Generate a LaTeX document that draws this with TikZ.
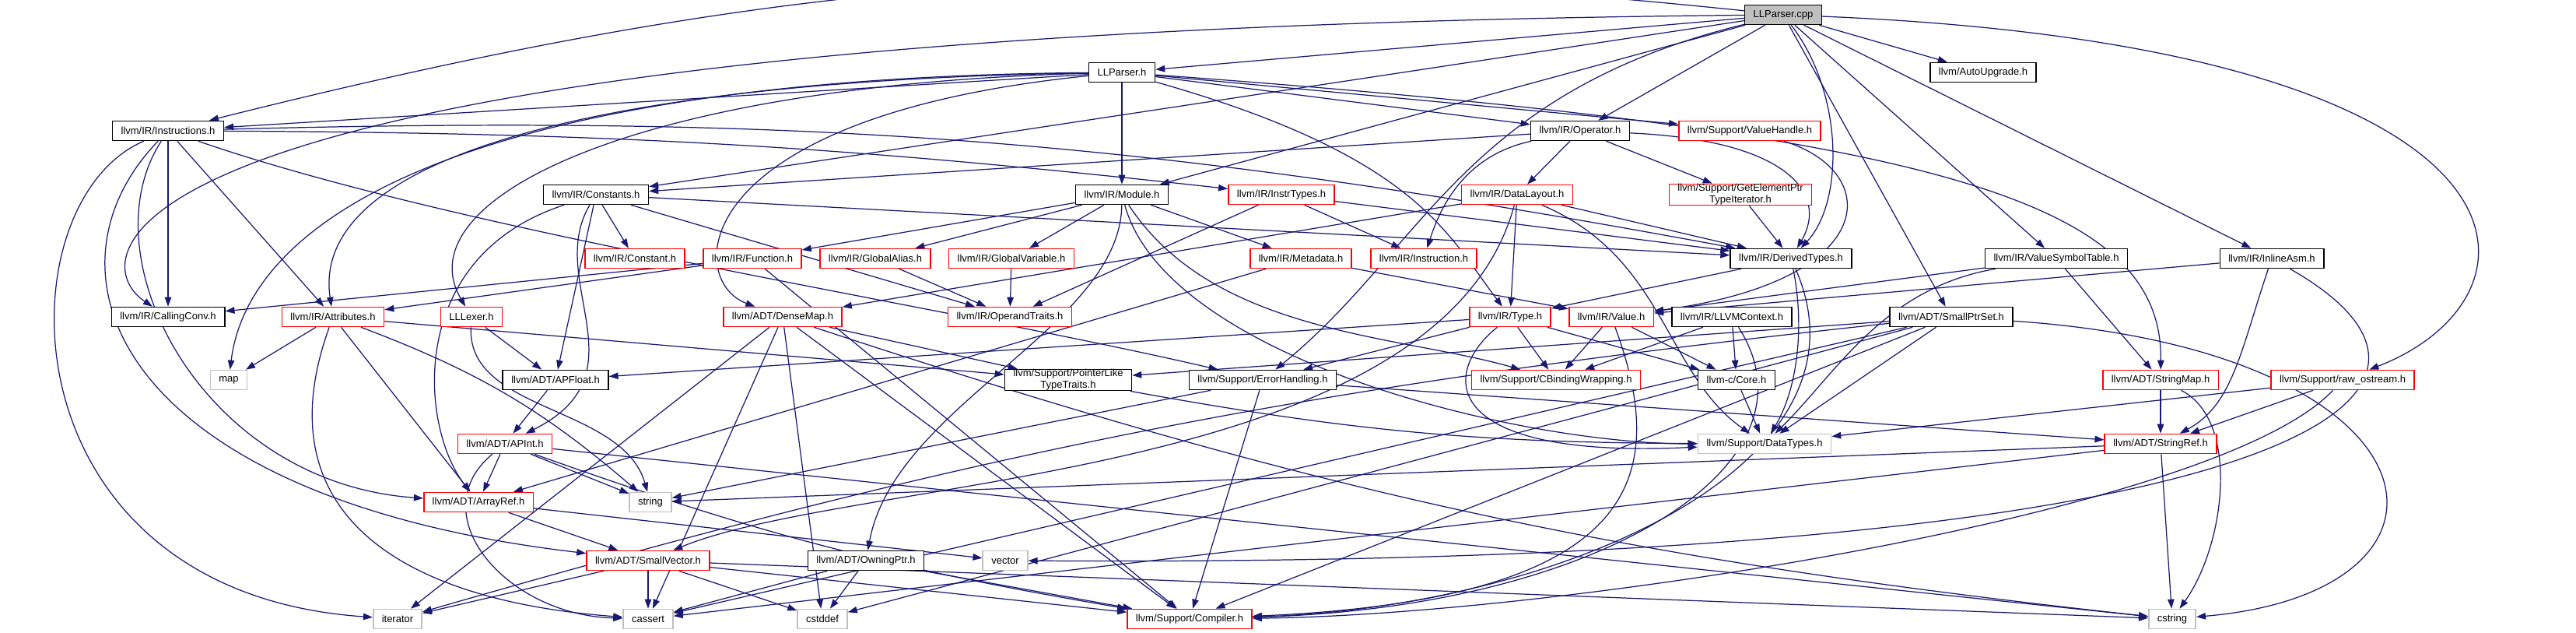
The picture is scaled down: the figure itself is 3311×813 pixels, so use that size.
\documentclass[tikz,border=0pt]{standalone}
\usepackage{fontspec}
\setsansfont{Liberation Sans}
\usepackage{tikz}
\usetikzlibrary{arrows.meta}
\definecolor{edgeblue}{HTML}{191970}
\definecolor{boxgray}{HTML}{BFBFBF}
\definecolor{boxred}{HTML}{FF0000}
\pgfdeclarelayer{edges}
\pgfsetlayers{edges,main}

\begin{document}
\begin{tikzpicture}[
  x=0.01cm, y=-0.01cm,
  >={Triangle[length=1.2mm, width=0.85mm]},
  file/.style={draw, line width=0.45pt, fill=white, minimum height=0.25cm, inner xsep=0.11cm, inner ysep=0pt, align=center, font=\sffamily\fontsize{3.7}{4.3}\selectfont},
  part/.style={file, draw=boxred},
  sys/.style={file, draw=boxgray},
  root/.style={file, fill=boxgray},
  dep/.style={->, draw=edgeblue, line width=0.35pt}
]
\useasboundingbox (0,0) rectangle (3311,813);

\node[root] (cpp)         at (2292,19)  {LLParser.cpp};
\node[file] (parserh)     at (1442,93)  {LLParser.h};
\node[file] (autoupg)     at (2549,93)  {llvm/AutoUpgrade.h};
\node[file] (instrs)      at (216,168)  {llvm/IR/Instructions.h};
\node[file] (operator)    at (2031,168) {llvm/IR/Operator.h};
\node[part] (valuehandle) at (2249,168) {llvm/Support/ValueHandle.h};
\node[file] (constants)   at (766,250)  {llvm/IR/Constants.h};
\node[file] (module)      at (1442,250) {llvm/IR/Module.h};
\node[part] (instrtypes)  at (1647,250) {llvm/IR/InstrTypes.h};
\node[part] (datalayout)  at (1950,250) {llvm/IR/DataLayout.h};
\node[part] (gepti)       at (2237,250) {llvm/Support/GetElementPtr\\TypeIterator.h};
\node[part] (constant)    at (816,332)  {llvm/IR/Constant.h};
\node[part] (function)    at (967,332)  {llvm/IR/Function.h};
\node[part] (galias)      at (1125,332) {llvm/IR/GlobalAlias.h};
\node[part] (gvar)        at (1300,332) {llvm/IR/GlobalVariable.h};
\node[part] (metadata)    at (1672,332) {llvm/IR/Metadata.h};
\node[part] (instr)       at (1830,332) {llvm/IR/Instruction.h};
\node[file] (derived)     at (2302,332) {llvm/IR/DerivedTypes.h};
\node[file] (vst)         at (2643,332) {llvm/IR/ValueSymbolTable.h};
\node[file] (inlineasm)   at (2920,332) {llvm/IR/InlineAsm.h};
\node[file] (callconv)    at (216,407)  {llvm/IR/CallingConv.h};
\node[part] (attrs)       at (428,407)  {llvm/IR/Attributes.h};
\node[part] (lexer)       at (606,407)  {LLLexer.h};
\node[part] (densemap)    at (1006,407) {llvm/ADT/DenseMap.h};
\node[part] (opertraits)  at (1298,407) {llvm/IR/OperandTraits.h};
\node[part] (type)        at (1941,407) {llvm/IR/Type.h};
\node[part] (value)       at (2071,407) {llvm/IR/Value.h};
\node[file] (context)     at (2226,407) {llvm/IR/LLVMContext.h};
\node[file] (smallptrset) at (2508,407) {llvm/ADT/SmallPtrSet.h};
\node[sys]  (map)         at (294,488)  {map};
\node[file] (apfloat)     at (714,488)  {llvm/ADT/APFloat.h};
\node[file] (ptrtraits)   at (1373,488) {llvm/Support/PointerLike\\TypeTraits.h};
\node[file] (errhandling) at (1623,488) {llvm/Support/ErrorHandling.h};
\node[part] (cbinding)    at (2000,488) {llvm/Support/CBindingWrapping.h};
\node[file] (corec)       at (2232,488) {llvm-c/Core.h};
\node[part] (stringmap)   at (2777,488) {llvm/ADT/StringMap.h};
\node[part] (rawos)       at (3011,488) {llvm/Support/raw\_ostream.h};
\node[part] (apint)       at (649,570)  {llvm/ADT/APInt.h};
\node[sys]  (datatypes)   at (2268,570) {llvm/Support/DataTypes.h};
\node[part] (stringref)   at (2777,570) {llvm/ADT/StringRef.h};
\node[part] (arrayref)    at (615,645)  {llvm/ADT/ArrayRef.h};
\node[sys]  (string)      at (836,645)  {string};
\node[part] (smallvec)    at (833,720)  {llvm/ADT/SmallVector.h};
\node[file] (owningptr)   at (1113,720) {llvm/ADT/OwningPtr.h};
\node[sys]  (vector)      at (1292,720) {vector};
\node[sys]  (iterator)    at (511,795)  {iterator};
\node[sys]  (cassert)     at (833,795)  {cassert};
\node[sys]  (cstddef)     at (1057,795) {cstddef};
\node[part] (compiler)    at (1529,795) {llvm/Support/Compiler.h};
\node[sys]  (cstring)     at (2792,795) {cstring};

\begin{pgfonlayer}{edges}
\foreach \src/\dst in {cpp/parserh, cpp/constants, cpp/module, cpp/operator, cpp/vst, cpp/inlineasm,
    cpp/smallptrset, cpp/autoupg, parserh/instrs, parserh/module, parserh/operator, parserh/valuehandle,
    instrs/callconv, instrs/attrs, constants/constant, constants/apfloat, constants/opertraits,
    constants/derived, module/function, module/galias, module/gvar, module/metadata,
    instrtypes/derived, instrtypes/instr, instrtypes/opertraits, operator/constants,
    operator/datalayout, operator/gepti, datalayout/densemap, datalayout/derived, datalayout/type,
    gepti/derived, function/callconv, function/attrs, function/compiler, galias/opertraits,
    gvar/opertraits, metadata/value, metadata/arrayref, derived/type, vst/value, vst/stringmap,
    inlineasm/value, attrs/map, attrs/arrayref, attrs/ptrtraits, lexer/apfloat, densemap/ptrtraits,
    densemap/iterator, densemap/cassert, densemap/cstddef, densemap/compiler, type/apfloat,
    type/errhandling, type/cbinding, type/corec, value/cbinding, value/corec, context/cbinding,
    context/corec, smallptrset/ptrtraits, smallptrset/datatypes, smallptrset/cassert,
    smallptrset/cstddef, smallptrset/compiler, errhandling/string, errhandling/compiler,
    errhandling/stringref, corec/datatypes, stringmap/stringref, rawos/stringref, rawos/datatypes,
    apfloat/apint, apint/arrayref, apint/string, apint/cstring, stringref/string, stringref/cassert,
    stringref/cstring, arrayref/smallvec, arrayref/vector, smallvec/iterator, smallvec/cassert,
    smallvec/cstddef, smallvec/compiler, smallvec/cstring, owningptr/cassert, owningptr/cstddef,
    owningptr/compiler}
  \draw[dep] (\src) -- (\dst);

\draw[dep] (cpp) to[bend right=10] (instrs);
\draw[dep] (cpp) .. controls (110,40) and (100,330) .. (callconv);
\draw[dep] (cpp) .. controls (2370,120) and (2370,260) .. (derived);
\draw[dep] (cpp) .. controls (3290,60) and (3290,380) .. (rawos);
\draw[dep] (cpp) .. controls (1880,120) and (1830,320) .. (errhandling);
\draw[dep] (parserh) .. controls (800,110) and (520,260) .. (lexer);
\draw[dep] (parserh) .. controls (880,150) and (880,360) .. (densemap);
\draw[dep] (parserh) .. controls (700,105) and (400,220) .. (attrs);
\draw[dep] (parserh) .. controls (600,100) and (320,280) .. (map);
\draw[dep] (parserh) .. controls (1820,200) and (1860,300) .. (type);
\draw[dep] (parserh) .. controls (2500,170) and (2780,260) .. (stringmap);
\draw[dep] (instrs) .. controls (110,330) and (260,620) .. (arrayref);
\draw[dep] (instrs) .. controls (40,350) and (150,640) .. (smallvec);
\draw[dep] (instrs) .. controls (0,260) and (0,760) .. (iterator);
\draw[dep] (instrs) to[bend left=3] (instrtypes);
\draw[dep] (instrs) to[bend left=6] (derived);
\draw[dep] (instrs) .. controls (600,300) and (1200,390) .. (errhandling);
\draw[dep] (constants) .. controls (700,360) and (830,480) .. (apint);
\draw[dep] (constants) .. controls (520,330) and (540,550) .. (arrayref);
\draw[dep] (module) .. controls (1440,420) and (1150,520) .. (owningptr);
\draw[dep] (module) .. controls (1560,430) and (1800,430) .. (cbinding);
\draw[dep] (module) .. controls (1500,460) and (1950,570) .. (datatypes);
\draw[dep] (operator) .. controls (2300,180) and (2350,250) .. (derived);
\draw[dep] (operator) .. controls (1880,200) and (1850,270) .. (instr);
\draw[dep] (valuehandle) .. controls (2420,220) and (2420,360) .. (value);
\draw[dep] (datalayout) .. controls (1850,620) and (1100,610) .. (smallvec);
\draw[dep] (datalayout) .. controls (2140,330) and (2140,480) .. (datatypes);
\draw[dep] (derived) .. controls (2320,420) and (2310,500) .. (datatypes);
\draw[dep] (derived) .. controls (2420,600) and (2000,780) .. (compiler);
\draw[dep] (vst) .. controls (2420,370) and (2360,480) .. (datatypes);
\draw[dep] (inlineasm) .. controls (2880,450) and (2870,520) .. (stringref);
\draw[dep] (inlineasm) .. controls (3250,520) and (2900,730) .. (vector);
\draw[dep] (attrs) .. controls (340,650) and (500,770) .. (cassert);
\draw[dep] (attrs) to[bend left=10] (string);
\draw[dep] (lexer) .. controls (600,530) and (800,520) .. (string);
\draw[dep] (densemap) to[bend right=6] (cstring);
\draw[dep] (type) .. controls (1850,480) and (1850,590) .. (datatypes);
\draw[dep] (value) .. controls (2150,620) and (2100,770) .. (compiler);
\draw[dep] (context) .. controls (2350,600) and (2050,780) .. (compiler);
\draw[dep] (smallptrset) to[bend right=5] (iterator);
\draw[dep] (smallptrset) .. controls (3150,450) and (3200,760) .. (cstring);
\draw[dep] (ptrtraits) to[bend right=5] (datatypes);
\draw[dep] (stringmap) .. controls (2880,540) and (2860,700) .. (cstring);
\draw[dep] (rawos) .. controls (2850,660) and (2000,790) .. (compiler);
\draw[dep] (apint) .. controls (540,660) and (650,790) .. (cassert);
\draw[dep] (apint) to[bend right=5] (compiler);
\end{pgfonlayer}

\end{tikzpicture}
\end{document}
